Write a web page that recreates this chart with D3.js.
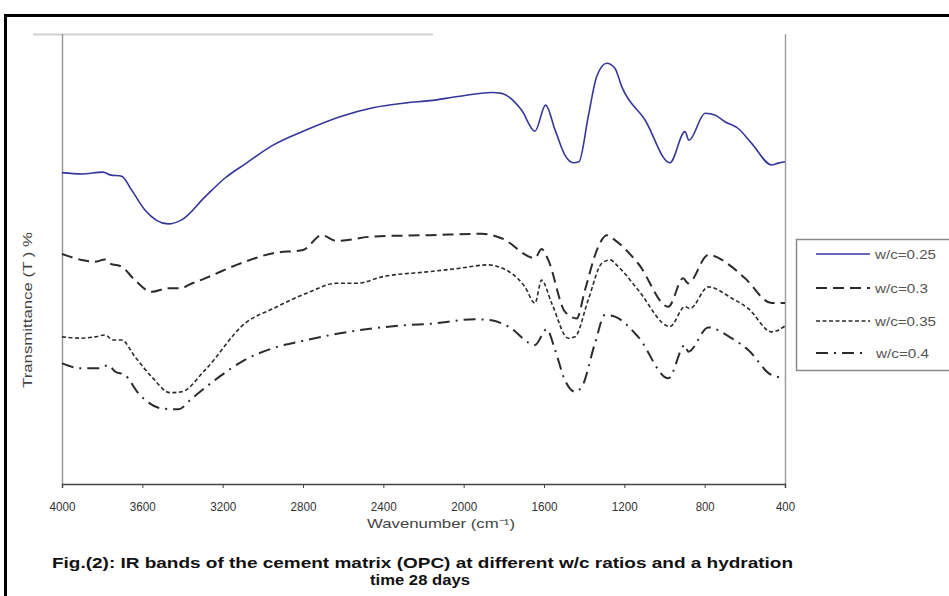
<!DOCTYPE html>
<html>
<head>
<meta charset="utf-8">
<script src="https://cdn.jsdelivr.net/npm/d3@7"></script>
<style>
  html, body { margin: 0; padding: 0; background: #fff; }
  svg { display: block; }
</style>
</head>
<body>
<svg id="chart" width="949" height="596"></svg>
<script>
// ---------- DATA ----------
const seriesNames = ["w/c=0.25", "w/c=0.3", "w/c=0.35", "w/c=0.4"];
const xTickValues = [4000, 3600, 3200, 2800, 2400, 2000, 1600, 1200, 800, 400];

// [wavenumber (cm-1), transmittance (arbitrary %)]
const wc025 = [
  [4000,69.2],[3902,68.9],[3796,69.3],[3761,68.7],[3703,68.4],[3653,65.3],[3587,60.9],
  [3472,57.8],[3404,58.7],[3288,63.8],[3188,68.0],[3089,71.1],[2949,75.3],[2782,78.7],
  [2616,81.6],[2452,83.6],[2284,84.7],[2168,85.2],[2029,86.1],[1861,87.0],[1811,86.8],
  [1712,83.1],[1645,78.4],[1592,84.2],[1545,78.7],[1496,73.1],[1454,71.4],[1426,71.6],
  [1380,81.6],[1338,90.5],[1288,93.5],[1247,92.4],[1213,88.3],[1097,80.9],[973,71.4],
  [898,78.3],[878,76.4],[798,82.4],[749,82.0],[699,80.5],[633,79.0],[566,75.7],
  [466,70.9],[434,71.3],[400,71.6]
];
const wc030 = [
  [4000,51.1],[3902,49.8],[3836,49.4],[3786,49.9],[3761,49.0],[3703,48.3],[3637,45.3],
  [3553,42.7],[3471,43.5],[3404,43.5],[3371,44.2],[3288,45.7],[3089,49.4],[2948,51.3],
  [2799,52.0],[2707,55.3],[2632,54.0],[2450,55.0],[2168,55.3],[1910,55.6],[1811,54.6],
  [1645,50.2],[1612,52.2],[1579,49.8],[1496,38.3],[1437,36.8],[1396,43.1],[1330,52.7],
  [1288,55.3],[1247,54.2],[1131,49.0],[981,39.4],[907,45.7],[882,44.6],[782,50.9],
  [666,48.3],[599,45.7],[466,40.2],[400,40.2]
];
const wc035 = [
  [4000,32.7],[3902,32.4],[3836,32.7],[3786,33.1],[3745,32.0],[3703,32.0],[3637,28.3],
  [3553,23.8],[3462,20.3],[3404,20.5],[3288,25.3],[3089,35.7],[2948,39.0],[2782,42.4],
  [2632,44.6],[2533,44.6],[2400,46.1],[2168,47.2],[2027,47.9],[1877,48.7],[1828,48.3],
  [1695,43.8],[1645,40.2],[1612,45.3],[1562,40.2],[1479,32.4],[1446,32.7],[1380,40.9],
  [1313,49.0],[1271,49.8],[1230,48.3],[1131,43.1],[973,35.0],[898,39.4],[873,39.0],
  [782,43.8],[666,41.3],[583,39.0],[466,33.8],[400,35.1]
];
const wc040 = [
  [4000,26.8],[3902,25.7],[3819,25.7],[3769,26.4],[3736,25.0],[3686,24.2],[3620,20.2],
  [3504,16.8],[3421,16.6],[3354,19.0],[3238,23.1],[3089,27.6],[2948,30.2],[2782,32.0],
  [2616,33.5],[2450,34.6],[2284,35.3],[2168,35.6],[1944,36.6],[1861,36.4],[1778,35.0],
  [1645,30.9],[1587,34.4],[1545,29.8],[1496,23.1],[1446,20.5],[1412,21.6],[1346,31.3],
  [1296,37.6],[1247,37.2],[1131,32.7],[981,23.5],[898,30.9],[882,29.4],[782,34.8],
  [666,32.4],[583,29.8],[466,24.2],[400,23.6]
];
const seriesData = [wc025, wc030, wc035, wc040];

const xTitle = "Wavenumber (cm\u207B\u00B9)";
const yTitle = "Transmittance (T ) %";
const captionLines = [
  "Fig.(2): IR bands of the cement matrix (OPC) at different w/c ratios and a hydration",
  "time 28 days"
];

// ---------- STYLES ----------
const styles = [
  { color: "#35359a", width: 1.6, dash: null },
  { color: "#2b2b2b", width: 2.0, dash: "11,6" },
  { color: "#2b2b2b", width: 1.6, dash: "4,2.5" },
  { color: "#2b2b2b", width: 2.0, dash: "12,6,2,6" }
];

const svg = d3.select("#chart");
const W = 949, H = 596;
const plot = { left: 62, right: 785, top: 34, bottom: 484 };

// outer black frame
svg.append("rect")
  .attr("x", 5.5).attr("y", 15.5).attr("width", 980).attr("height", 620)
  .attr("fill", "none").attr("stroke", "#000").attr("stroke-width", 3);

// faint chart-area fragment at top
svg.append("line")
  .attr("x1", 33).attr("x2", 433).attr("y1", 34.5).attr("y2", 34.5)
  .attr("stroke", "#d0d0d0").attr("stroke-width", 2);

const x = d3.scaleLinear().domain([4000, 400]).range([plot.left, plot.right]);
const y = d3.scaleLinear().domain([0, 100]).range([plot.bottom, plot.top]);

// plot borders (y-axis line & right edge)
svg.append("line")
  .attr("x1", plot.left + 0.5).attr("x2", plot.left + 0.5)
  .attr("y1", plot.top).attr("y2", plot.bottom)
  .attr("stroke", "#9a9a9a").attr("stroke-width", 1.5);
svg.append("line")
  .attr("x1", plot.right + 0.5).attr("x2", plot.right + 0.5)
  .attr("y1", plot.top).attr("y2", plot.bottom)
  .attr("stroke", "#a0a0a0").attr("stroke-width", 1.5);

// x axis
const xAxis = d3.axisBottom(x).tickValues(xTickValues).tickSize(4).tickPadding(14)
  .tickFormat(d3.format("d"));
const gx = svg.append("g").attr("transform", `translate(0,${plot.bottom})`).call(xAxis);
gx.select(".domain").attr("stroke", "#444").attr("stroke-width", 1.5);
gx.selectAll(".tick line").attr("stroke", "#444");
gx.selectAll(".tick text")
  .attr("fill", "#333")
  .style("font-family", "'Liberation Sans Narrow', 'Liberation Sans', Arial, sans-serif")
  .style("font-size", "12px")
  .attr("textLength", d => d >= 1000 ? 26 : 19)
  .attr("lengthAdjust", "spacingAndGlyphs");

// x title
svg.append("text")
  .attr("x", 441).attr("y", 528)
  .attr("text-anchor", "middle")
  .attr("fill", "#444")
  .style("font-family", "'Liberation Sans', Arial, sans-serif")
  .style("font-size", "13px")
  .attr("textLength", 148).attr("lengthAdjust", "spacingAndGlyphs")
  .text(xTitle);

// y title
svg.append("text")
  .attr("transform", "translate(32,310) rotate(-90)")
  .attr("text-anchor", "middle")
  .attr("fill", "#444")
  .style("font-family", "'Liberation Sans', Arial, sans-serif")
  .style("font-size", "12.5px")
  .attr("textLength", 156).attr("lengthAdjust", "spacingAndGlyphs")
  .text(yTitle);

// lines
const line = d3.line()
  .x(d => x(d[0]))
  .y(d => y(d[1]))
  .curve(d3.curveMonotoneX);

seriesData.forEach((data, i) => {
  const s = styles[i];
  svg.append("path")
    .datum(data)
    .attr("fill", "none")
    .attr("stroke", s.color)
    .attr("stroke-width", s.width)
    .attr("stroke-linejoin", "round")
    .attr("stroke-dasharray", s.dash)
    .attr("d", line);
});

// legend
const lg = svg.append("g");
lg.append("rect")
  .attr("x", 796.5).attr("y", 239.5).attr("width", 200).attr("height", 131)
  .attr("fill", "#fff").attr("stroke", "#8a8a8a").attr("stroke-width", 1.5);
const rowY = [254, 288, 321, 353];
seriesNames.forEach((name, i) => {
  const s = styles[i];
  lg.append("line")
    .attr("x1", 816).attr("x2", i === 3 ? 862 : 870)
    .attr("y1", rowY[i]).attr("y2", rowY[i])
    .attr("stroke", s.color).attr("stroke-width", s.width)
    .attr("stroke-dasharray", s.dash);
  lg.append("text")
    .attr("x", i === 3 ? 876 : 875).attr("y", rowY[i] + 4.5)
    .attr("fill", "#555")
    .style("font-family", "'Liberation Sans', Arial, sans-serif")
    .style("font-size", "12.5px")
    .attr("textLength", name.length === 8 ? 61 : 53)
    .attr("lengthAdjust", "spacingAndGlyphs")
    .text(name);
});

// caption
svg.append("text")
  .attr("x", 52).attr("y", 568)
  .attr("fill", "#111")
  .style("font-family", "'Liberation Sans Narrow', 'Liberation Sans', Arial, sans-serif")
  .style("font-weight", "bold")
  .style("font-size", "15px")
  .attr("textLength", 741).attr("lengthAdjust", "spacingAndGlyphs")
  .text(captionLines[0]);
svg.append("text")
  .attr("x", 420).attr("y", 585)
  .attr("text-anchor", "middle")
  .attr("fill", "#111")
  .style("font-family", "'Liberation Sans Narrow', 'Liberation Sans', Arial, sans-serif")
  .style("font-weight", "bold")
  .style("font-size", "15px")
  .attr("textLength", 100).attr("lengthAdjust", "spacingAndGlyphs")
  .text(captionLines[1]);
</script>
</body>
</html>
